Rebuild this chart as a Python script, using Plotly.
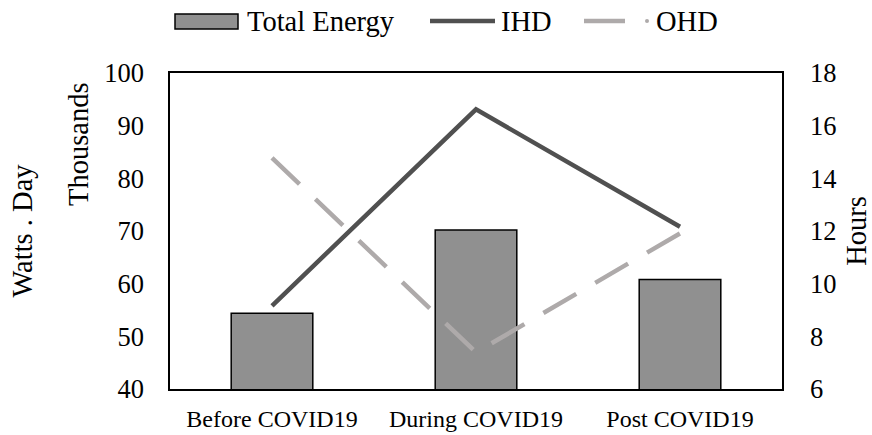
import plotly.graph_objects as go

categories = ["Before COVID19", "During COVID19", "Post COVID19"]
total_energy = [54.4, 70.2, 60.8]      # Watts . Day (thousands)
ihd_hours = [9.16, 16.62, 12.16]       # IHD hours
ohd_hours = [14.78, 7.39, 11.91]       # OHD hours

FONT = "Liberation Serif, Times New Roman, serif"
BAR_COLOR = "#909090"
IHD_COLOR = "#505050"
OHD_COLOR = "#AEAAAA"

W, H = 872, 435
L, R, T, B = 170, 90, 73, 46
PW, PH = W - L - R, H - T - B


def px(x):
    return (x - L) / PW


def py(y):
    return (H - B - y) / PH


fig = go.Figure()
fig.add_trace(go.Bar(
    x=categories, y=total_energy, name="Total Energy",
    marker=dict(color=BAR_COLOR, line=dict(color="black", width=1.5)),
    yaxis="y", showlegend=False,
))
fig.add_trace(go.Scatter(
    x=categories, y=ihd_hours, name="IHD", mode="lines",
    line=dict(color=IHD_COLOR, width=4.5), yaxis="y2", showlegend=False,
))
fig.add_trace(go.Scatter(
    x=categories, y=ohd_hours, name="OHD", mode="lines",
    line=dict(color=OHD_COLOR, width=4.5, dash="38px,22px"), yaxis="y2", showlegend=False,
))

# custom legend
shapes = [
    dict(type="rect", xref="paper", yref="paper", x0=px(175), x1=px(238), y0=py(29), y1=py(14),
         fillcolor=BAR_COLOR, line=dict(color="black", width=1.5)),
    dict(type="line", xref="paper", yref="paper", x0=px(430), x1=px(495), y0=py(21), y1=py(21),
         line=dict(color=IHD_COLOR, width=4.5)),
    dict(type="line", xref="paper", yref="paper", x0=px(584), x1=px(625), y0=py(21), y1=py(21),
         line=dict(color=OHD_COLOR, width=4.5)),
    dict(type="circle", xref="paper", yref="paper", x0=px(645), x1=px(649), y0=py(23), y1=py(19),
         fillcolor=OHD_COLOR, line=dict(color=OHD_COLOR, width=0)),
]
legend_labels = [("Total Energy", 245), ("IHD", 499), ("OHD", 654)]
annotations = [
    dict(text=t, x=px(xl), y=py(21), xref="paper", yref="paper", xanchor="left", yanchor="middle",
         showarrow=False, font=dict(family=FONT, size=28.5, color="black"))
    for t, xl in legend_labels
]
annotations.append(dict(text="Thousands", x=px(78), y=py(144), xref="paper", yref="paper",
                        xanchor="center", yanchor="middle", textangle=-90, showarrow=False,
                        font=dict(family=FONT, size=28.5, color="black")))

fig.update_layout(
    width=W, height=H,
    margin=dict(l=L, r=R, t=T, b=B, pad=0, autoexpand=False),
    paper_bgcolor="white", plot_bgcolor="white",
    bargap=0.6,
    font=dict(family=FONT, color="black"),
    xaxis=dict(showline=True, linecolor="black", linewidth=1.5, mirror=True, showgrid=False,
               automargin=False,
               ticks="", tickfont=dict(family=FONT, size=24, color="black"), ticklabelstandoff=7),
    yaxis=dict(range=[40, 100], dtick=10, showline=True, linecolor="black", linewidth=1.5,
               mirror=True, showgrid=False, zeroline=False, ticks="", automargin=False,
               tickfont=dict(family=FONT, size=26.5, color="black"), ticklabelstandoff=19,
               title=dict(text="Watts . Day", font=dict(family=FONT, size=28.5, color="black"), standoff=63)),
    yaxis2=dict(range=[6, 18], dtick=2, overlaying="y", side="right", showline=True,
                linecolor="black", linewidth=1.5, showgrid=False, zeroline=False, ticks="",
                automargin=False,
                tickfont=dict(family=FONT, size=26.5, color="black"), ticklabelstandoff=21,
                title=dict(text="Hours", font=dict(family=FONT, size=28.5, color="black"), standoff=14)),
    shapes=shapes,
    annotations=annotations,
    showlegend=False,
)

fig.write_html("out.html")
